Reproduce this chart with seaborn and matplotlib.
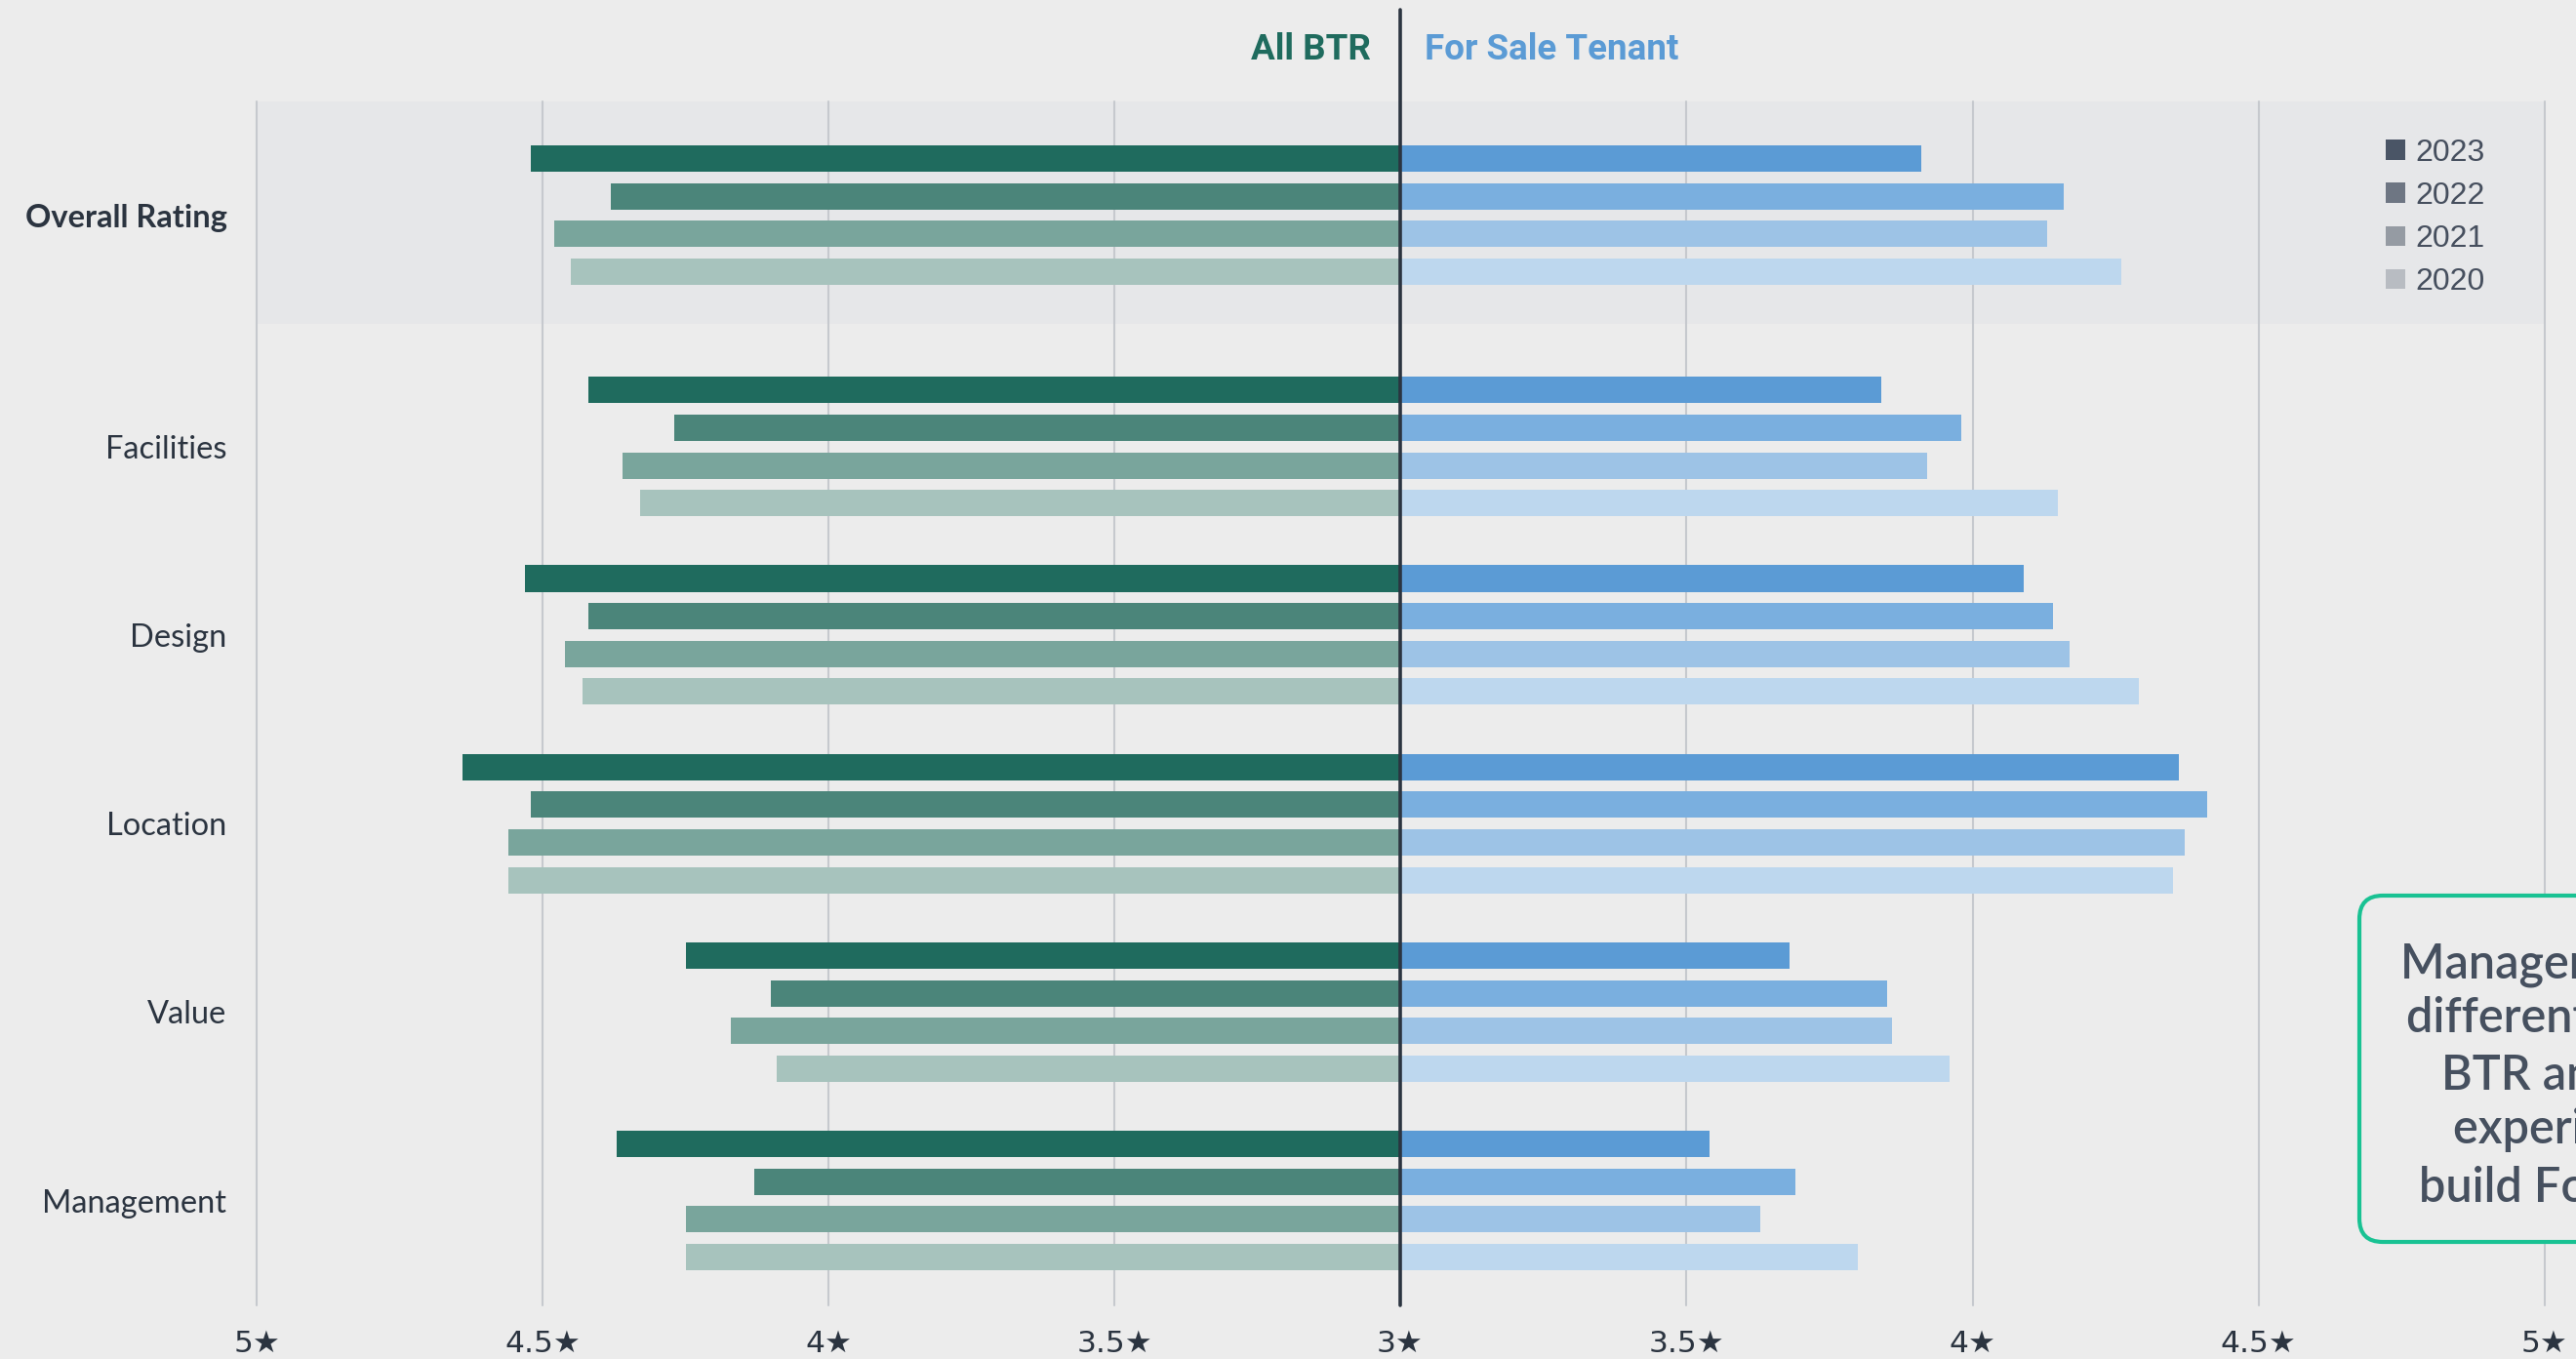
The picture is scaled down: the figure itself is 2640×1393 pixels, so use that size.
import numpy as np
import pandas as pd
import matplotlib
matplotlib.use("Agg")
import matplotlib.pyplot as plt
from matplotlib.patches import Patch, FancyBboxPatch
import seaborn as sns

# ---- data -------------------------------------------------------------
categories = ["Overall Rating", "Facilities", "Design", "Location", "Value", "Management"]
years = ["2023", "2022", "2021", "2020"]

# average star ratings per survey year, in category order
all_btr_2023 = [4.52, 4.42, 4.53, 4.64, 4.25, 4.37]
all_btr_2022 = [4.38, 4.27, 4.42, 4.52, 4.10, 4.13]
all_btr_2021 = [4.48, 4.36, 4.46, 4.56, 4.17, 4.25]
all_btr_2020 = [4.45, 4.33, 4.43, 4.56, 4.09, 4.25]

for_sale_2023 = [3.91, 3.84, 4.09, 4.36, 3.68, 3.54]
for_sale_2022 = [4.16, 3.98, 4.14, 4.41, 3.85, 3.69]
for_sale_2021 = [4.13, 3.92, 4.17, 4.37, 3.86, 3.63]
for_sale_2020 = [4.26, 4.15, 4.29, 4.35, 3.96, 3.80]

star_ticks = [3, 3.5, 4, 4.5, 5]
star_labels = ["3★", "3.5★", "4★", "4.5★", "5★"]

# ---- layout / style ---------------------------------------------------
row_pos = [-1.228, 0, 1, 2, 3, 4]          # overall rating sits apart from the rest
band_span = (-1.831, -0.652)
ylim = (4.556, -1.831)

green_palette = ["#1f6b5e", "#4b857a", "#79a59c", "#a7c3bd"]
blue_palette = ["#5b9bd5", "#7aafdf", "#9dc3e6", "#bdd7ee"]
legend_greys = ["#4a5566", "#6e7683", "#959ba3", "#b8bcc2"]
bg = "#ececec"
band = "#e6e7e9"
grid_c = "#c6c9ce"
ink = "#2b3440"

all_btr = [all_btr_2023, all_btr_2022, all_btr_2021, all_btr_2020]
for_sale = [for_sale_2023, for_sale_2022, for_sale_2021, for_sale_2020]
records = []
for yi, yr in enumerate(years):
    for ci, cat in enumerate(categories):
        records.append({"category": cat, "pos": row_pos[ci], "year": yr,
                        "all_btr": all_btr[yi][ci], "for_sale": for_sale[yi][ci]})
df = pd.DataFrame(records)

sns.set_theme(style="white")
plt.rcParams["font.family"] = ["Lato", "DejaVu Sans"]

W, H = 2640, 1393
fig = plt.figure(figsize=(W / 100, H / 100), dpi=100, facecolor=bg)

x_left, x_mid, x_right = 263, 1435, 2608
y_top, y_bot = 104, 1338
axL = fig.add_axes([x_left / W, (H - y_bot) / H, (x_mid - x_left) / W, (y_bot - y_top) / H])
axR = fig.add_axes([x_mid / W, (H - y_bot) / H, (x_right - x_mid) / W, (y_bot - y_top) / H])

bar_kw = dict(y="pos", hue="year", hue_order=years, orient="y", native_scale=True,
              width=0.80, gap=0.30, saturation=1, errorbar=None, legend=False,
              linewidth=0)
sns.barplot(data=df, x="all_btr", palette=green_palette, ax=axL, **bar_kw)
sns.barplot(data=df, x="for_sale", palette=blue_palette, ax=axR, **bar_kw)

tick_font = ["Liberation Sans Narrow", "DejaVu Sans"]
for ax in (axL, axR):
    ax.set_facecolor(bg)
    ax.axhspan(*band_span, color=band, zorder=0, lw=0)
    ax.set_ylim(*ylim)
    for s in ax.spines.values():
        s.set_visible(False)
    ax.set_xlabel("")
    ax.set_ylabel("")
    for t in star_ticks[1:]:
        ax.axvline(t, color=grid_c, lw=1.5, zorder=0.5, clip_on=False)
    ax.tick_params(axis="x", length=0, pad=18)
    ax.tick_params(axis="y", length=0)

axL.set_xlim(5, 3)
axR.set_xlim(3, 5)
axL.set_xticks(star_ticks[1:], star_labels[1:])
axR.set_xticks(star_ticks, star_labels)
for ax in (axL, axR):
    for lab in ax.get_xticklabels():
        lab.set_family(tick_font)
        lab.set_fontsize(22.5)
        lab.set_color(ink)

axL.set_yticks(row_pos, categories)
axL.tick_params(axis="y", pad=22)
for i, lab in enumerate(axL.get_yticklabels()):
    lab.set_fontsize(23.5)
    lab.set_color(ink)
    if i == 0:
        lab.set_fontweight("bold")
axR.set_yticks([])

# divider between the two groups
axR.axvline(3, ymin=0, ymax=1 + 94 / (y_bot - y_top), color=ink, lw=2.6,
            clip_on=False, zorder=5)

# group headings
fig.text(1405 / W, 1 - 51 / H, "All BTR", ha="right", va="center",
         fontsize=26.5, fontweight="bold", color="#1f6b5e",
         family=["Roboto", "DejaVu Sans"])
fig.text(1460 / W, 1 - 51 / H, "For Sale Tenant", ha="left", va="center",
         fontsize=26.5, fontweight="bold", color="#5b9bd5",
         family=["Roboto", "DejaVu Sans"])

# year legend
handles = [Patch(facecolor=c, edgecolor="none") for c in legend_greys]
leg = fig.legend(handles, years, loc="upper left",
                 bbox_to_anchor=(2445 / W, 1 - 142 / H), bbox_transform=fig.transFigure,
                 frameon=False, handlelength=0.62, handleheight=0.62,
                 handletextpad=0.32, labelspacing=0.44, borderpad=0, borderaxespad=0,
                 prop={"family": ["Liberation Sans", "DejaVu Sans"], "size": 23})
for t in leg.get_texts():
    t.set_color("#464f5e")

# call-out box on the right edge
box = FancyBboxPatch((2418, H - 1273), 600, 355,
                     boxstyle="round,pad=0,rounding_size=24",
                     transform=None, facecolor=bg, edgecolor="#19c293", lw=3.0)
fig.add_artist(box)
callout = ["Management is the biggest", "differentiator between", "BTR and the resident",
           "experience of a new", "build For Sale home."]
starts = [2460, 2466, 2502, 2514, 2479]
baselines = [1002, 1058, 1117, 1172, 1232]
for txt, x0, yb in zip(callout, starts, baselines):
    fig.text(x0 / W, 1 - yb / H, txt, ha="left", va="baseline", fontsize=35,
             fontweight="semibold", color="#46505f")

fig.savefig("out.png", dpi=100, facecolor=bg)
